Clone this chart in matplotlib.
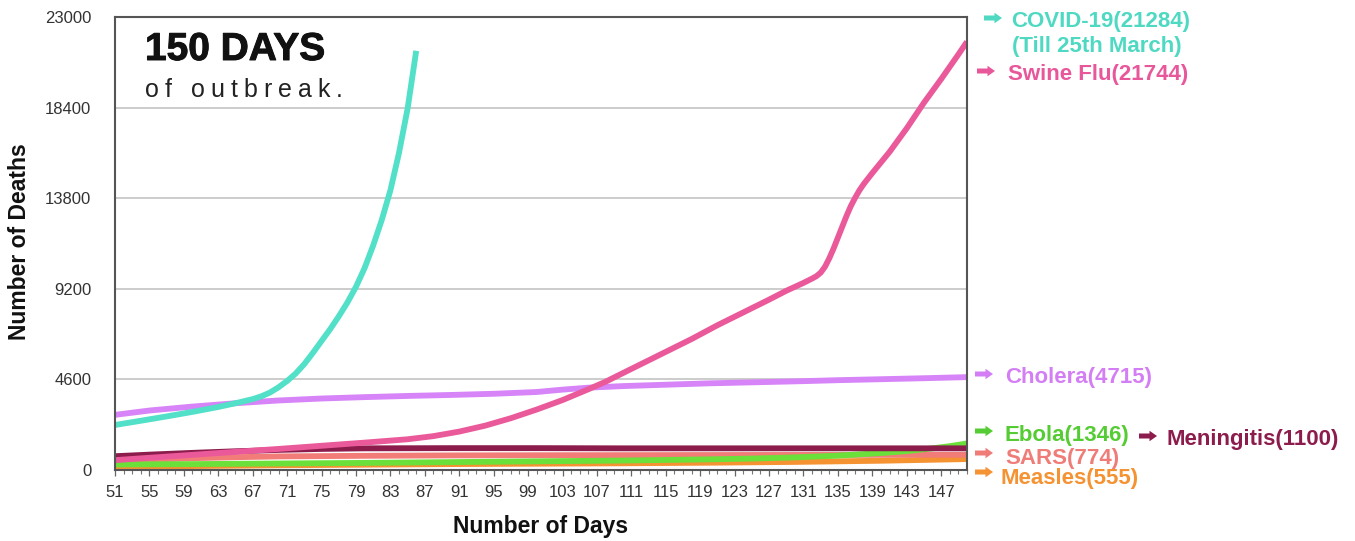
import matplotlib
matplotlib.use("Agg")
import matplotlib.pyplot as plt
import matplotlib.patheffects as pe
from matplotlib.patches import FancyArrow
from matplotlib.ticker import FixedLocator
from matplotlib.font_manager import FontProperties

W, H = 1355, 541
plt.rcParams["font.family"] = ["Liberation Sans", "DejaVu Sans"]

# ---- data: cumulative deaths by day of outbreak ----
covid_days = [51, 54, 57, 60, 63, 65, 67, 68, 69, 70, 71, 72, 73, 74, 75, 76, 77, 78, 79, 80, 81, 82, 83,
              84, 85, 86]
covid_deaths = [2285, 2500, 2720, 2950, 3200, 3390, 3600, 3740, 3930, 4200, 4520, 4900, 5380, 5950, 6550,
                7150, 7800, 8500, 9300, 10250, 11400, 12700, 14200, 16100, 18350, 21284]

swine_days = [51, 55, 60, 65, 70, 75, 80, 85, 88, 91, 94, 97, 100, 103, 106, 108, 109, 112, 115, 118,
              121, 124, 127, 129, 131, 132, 132.5, 133, 133.5, 134, 134.5, 135, 135.5, 136, 136.5, 137,
              137.5, 138, 138.5, 139, 141, 143, 145, 147, 149, 150]
swine_deaths = [500, 620, 770, 920, 1070, 1230, 1390, 1560, 1720, 1950, 2250, 2630, 3070, 3550, 4100, 4480,
                4700, 5350, 6000, 6650, 7350, 8000, 8650, 9100, 9500, 9720, 9840, 10020, 10320, 10750,
                11250, 11800, 12350, 12900, 13400, 13820, 14200, 14520, 14800, 15080, 16150, 17350,
                18650, 19850, 21100, 21744]

cholera_days = [51, 55, 60, 65, 70, 75, 80, 85, 90, 95, 100, 103, 106, 110, 115, 120, 125, 130, 135, 140, 145, 150]
cholera_deaths = [2800, 3020, 3220, 3390, 3530, 3630, 3700, 3760, 3810, 3870, 3960, 4080, 4180, 4260, 4330,
                  4400, 4450, 4500, 4560, 4610, 4660, 4715]

meningitis_days = [51, 55, 60, 65, 70, 75, 80, 90, 100, 110, 120, 130, 140, 150]
meningitis_deaths = [700, 780, 870, 950, 1020, 1070, 1100, 1110, 1110, 1100, 1100, 1100, 1100, 1100]

sars_days = [51, 55, 60, 65, 70, 80, 90, 100, 110, 120, 130, 140, 150]
sars_deaths = [420, 520, 600, 650, 690, 720, 740, 750, 755, 760, 765, 770, 774]

ebola_days = [51, 60, 70, 80, 90, 100, 110, 120, 125, 130, 135, 140, 143, 146, 148, 150]
ebola_deaths = [280, 300, 330, 360, 400, 440, 480, 540, 580, 640, 730, 860, 960, 1100, 1210, 1346]

measles_days = [51, 60, 70, 80, 90, 100, 110, 120, 130, 140, 150]
measles_deaths = [150, 200, 240, 270, 300, 320, 340, 370, 410, 470, 555]

y_ticks = [0, 4600, 9200, 13800, 18400, 23000]
x_ticks = list(range(51, 148, 4))

series = [
    (measles_days, measles_deaths, "#f59232"),
    (sars_days, sars_deaths, "#f27c78"),
    (ebola_days, ebola_deaths, "#6be03a"),
    (meningitis_days, meningitis_deaths, "#8c1c4c"),
    (cholera_days, cholera_deaths, "#d684f7"),
    (swine_days, swine_deaths, "#ea5a9a"),
    (covid_days, covid_deaths, "#52e0c8"),
]


def fx(x):
    return x / W


def fy(y):
    return 1 - y / H


fig = plt.figure(figsize=(W / 100, H / 100), dpi=100)
ax = fig.add_axes([fx(115), fy(470), 852 / W, 453 / H])

for d, v, c in series:
    ax.plot(d, v, color=c, lw=4.2, solid_capstyle="butt", solid_joinstyle="round")

ax.set_xlim(51, 150)
ax.set_ylim(0, 23000)
ax.set_yticks(y_ticks)
ax.set_yticklabels([str(t) for t in y_ticks])
ax.set_xticks(x_ticks)
ax.set_xticklabels([str(t) for t in x_ticks])
ax.xaxis.set_minor_locator(FixedLocator(list(range(51, 151))))

ax.tick_params(axis="y", length=0, pad=17, labelsize=12, labelcolor="#333333")
ax.tick_params(axis="x", which="major", length=4, width=0.9, color="#666666", pad=7,
               labelsize=12, labelcolor="#333333")
ax.tick_params(axis="x", which="minor", length=3, width=0.8, color="#777777")

ax.yaxis.grid(True, color="#c8c8c8", lw=1.3)
ax.set_axisbelow(True)
for s in ax.spines.values():
    s.set_color("#555555")
    s.set_linewidth(1.5)

# headline in the upper-left corner
fig.text(fx(145), fy(60), "150 DAYS", fontsize=28, fontweight="bold", color="#111111", va="baseline",
         path_effects=[pe.withStroke(linewidth=0.7, foreground="#111111")])

# letter-spaced subtitle
sub = "of outbreak."
renderer = fig.canvas.get_renderer()
prop = FontProperties(family=["Liberation Sans", "DejaVu Sans"], size=18)


def text_width(s):
    w, _, _ = renderer.get_text_width_height_descent(s, prop, ismath=False)
    return w


tracking = 6.0
for i, ch in enumerate(sub):
    if ch == " ":
        continue
    left = text_width(sub[:i + 1]) - text_width(ch)
    fig.text(fx(145 + left + tracking * i), fy(97), ch, fontproperties=prop, color="#222222",
             va="baseline")

# axis titles
fig.text(fx(20), fy(242), "Number of Deaths", rotation=90, fontsize=16.5, fontweight="bold",
         color="#111111", ha="center", va="center")
fig.text(fx(541), fy(527), "Number of Days", fontsize=16.5, fontweight="bold",
         color="#111111", ha="center", va="center")


def block_arrow(x_left, y_mid, color, length=18):
    # short thick arrow drawn in pixel units
    art = FancyArrow(x_left / 100, (H - y_mid) / 100, length / 100, 0, width=0.05,
                     head_width=0.105, head_length=0.075, length_includes_head=True,
                     transform=fig.dpi_scale_trans, color=color, lw=0)
    fig.patches.append(art)


# end-of-line labels with arrows
labels = [
    (984, 18, 1011, 27, "COVID-19(21284)", "#4fd9c2"),
    (None, None, 1012, 52, "(Till 25th March)", "#4fd9c2"),
    (977, 71, 1008, 80, "Swine Flu(21744)", "#e8579a"),
    (975, 374, 1005, 383, "Cholera(4715)", "#d47ef5"),
    (975, 431, 1005, 441, "Ebola(1346)", "#55cc33"),
    (1139, 436, 1167, 445, "Meningitis(1100)", "#8c1c4c"),
    (975, 453, 1005, 464, "SARS(774)", "#f07c78"),
    (975, 472, 1000, 484, "Measles(555)", "#f59232"),
]
for ax_x, ax_y, tx, ty, txt, col in labels:
    if ax_x is not None:
        block_arrow(ax_x, ax_y, col)
    fig.text(fx(tx), fy(ty), txt, fontsize=16, fontweight="bold", color=col, va="baseline")

fig.savefig("out.png", dpi=100)
